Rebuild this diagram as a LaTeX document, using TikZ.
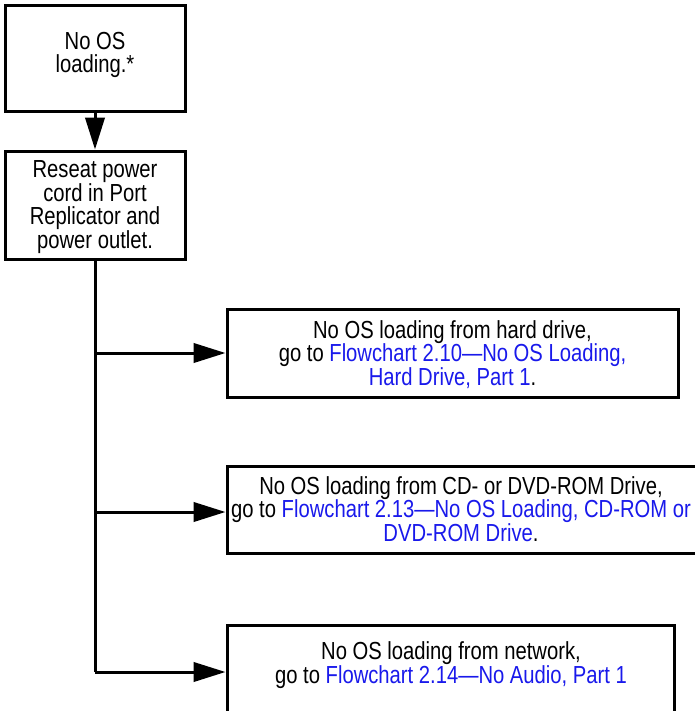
\documentclass[tikz,border=0pt]{standalone}
\usepackage{fontspec}
\setmainfont[FakeStretch=0.82]{Liberation Sans}
\usetikzlibrary{arrows.meta}
\definecolor{linkblue}{RGB}{25,25,235}
\newcommand{\lnk}[1]{\textcolor{linkblue}{#1}}
\begin{document}
\begin{tikzpicture}[x=0.75pt,y=-0.75pt,
  flowbox/.style={draw,line width=2.25pt,rectangle,inner sep=0pt},
  flowtext/.style={align=center,inner sep=0pt,font=\fontsize{18.5}{17.6}\selectfont},
  flowline/.style={line width=2.25pt},
  flowarrow/.style={line width=2.25pt,-{Triangle[length=24pt,width=14.5pt]}}]
\path[use as bounding box,clip] (0,0) rectangle (695,711);
% boxes
\node[flowbox,minimum width=180*0.75pt,minimum height=106*0.75pt] (b1) at (95,58) {};
\node[flowtext] (t1) at (95,55) {No OS\\loading.*};
\node[flowbox,minimum width=180*0.75pt,minimum height=108*0.75pt] (b2) at (95,205) {};
\node[flowtext] (t2) at (95,207) {Reseat power\\cord in Port\\Replicator and\\power outlet.};
\node[flowbox,minimum width=451*0.75pt,minimum height=88*0.75pt] (b3) at (452.5,353) {};
\node[flowtext] (t3) at (452.5,354.5) {No OS loading from hard drive,\\go to \lnk{Flowchart 2.10—No OS Loading,}\\\lnk{Hard Drive, Part 1}.};
\node[flowbox,minimum width=490*0.75pt,minimum height=87*0.75pt] (b4) at (472,509.5) {};
\node[flowtext] (t4) at (461,509) {No OS loading from CD- or DVD-ROM Drive,\\go to \lnk{Flowchart 2.13—No OS Loading, CD-ROM or}\\\lnk{DVD-ROM Drive}.};
\node[flowbox,minimum width=447*0.75pt,minimum height=120*0.75pt] (b5) at (450.5,685) {};
\node[flowtext] (t5) at (451,665) {No OS loading from network,\\go to \lnk{Flowchart 2.14—No Audio, Part 1}};
\coordinate (j3) at (95,353);
\coordinate (j4) at (95,512);
\coordinate (j5) at (95,672);
\coordinate (e4) at (b4.west |- j4);
\coordinate (e5) at (b5.west |- j5);
% connectors
\draw[flowarrow] (b1.south) -- (b2.north);
\draw[flowline] (b2.south) -- (j5);
\draw[flowarrow] (j3) -- (b3.west);
\draw[flowarrow] (j4) -- (e4);
\draw[flowarrow] (j5) -- (e5);
\end{tikzpicture}
\end{document}
